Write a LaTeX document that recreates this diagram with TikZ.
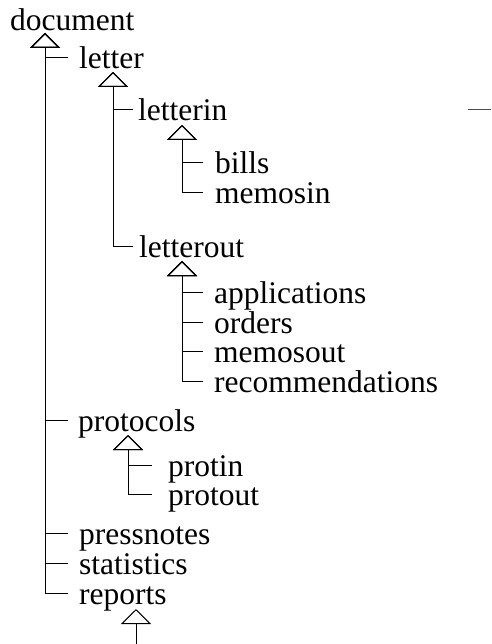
\documentclass[tikz,border=0pt]{standalone}
\usepackage{fontspec}
\setmainfont{Liberation Serif}
\usetikzlibrary{arrows.meta}
\tikzset{
  x=1bp, y=-1bp,
  lbl/.style={anchor=west, inner ysep=0pt, text height=22bp, text depth=0pt,
              font=\fontsize{31.5bp}{37bp}\selectfont},
  gen/.style={line width=1bp, -{Triangle[open,length=15bp,width=30bp]}},
  plain/.style={line width=1bp}
}
\begin{document}
\begin{tikzpicture}
\useasboundingbox (0,0) rectangle (492,644);
% nodes
\node[lbl, inner xsep=0pt]  (document) at (10,20) {document};
\node[lbl, inner xsep=11bp] (letter) at (68,58) {letter};
\node[lbl, inner xsep=5bp]  (letterin) at (133,110) {letterin};
\node[lbl, inner xsep=12bp] (bills) at (203,163) {bills};
\node[lbl, inner xsep=12bp] (memosin) at (203,192) {memosin};
\node[lbl, inner xsep=6bp]  (letterout) at (133,246) {letterout};
\node[lbl, inner xsep=11bp] (applications) at (203,292) {applications};
\node[lbl, inner xsep=11bp] (orders) at (203,322) {orders};
\node[lbl, inner xsep=11bp] (memosout) at (203,351) {memosout};
\node[lbl, inner xsep=11bp] (recommendations) at (203,381) {recommendations};
\node[lbl, inner xsep=10bp] (protocols) at (68,420) {protocols};
\node[lbl, inner xsep=16bp] (protin) at (152,465) {protin};
\node[lbl, inner xsep=16bp] (protout) at (152,494) {protout};
\node[lbl, inner xsep=11bp] (pressnotes) at (68,533) {pressnotes};
\node[lbl, inner xsep=11bp] (statistics) at (68,563) {statistics};
\node[lbl, inner xsep=11bp] (reports) at (68,593) {reports};
% triangle apex points
\coordinate (document-t) at (45,33);
\coordinate (letter-t) at (113,72);
\coordinate (letterin-t) at (182,125);
\coordinate (letterout-t) at (182,261);
\coordinate (protocols-t) at (128,435);
\coordinate (reports-t) at (136,609);
\coordinate (reports-src) at (136,644);
\coordinate (stray-a) at (468,110);
\coordinate (stray-b) at (491,110);
% connectors
\foreach \c in {letter,protocols,pressnotes,statistics,reports}
  \draw[gen] (\c.west) -| (document-t);
\foreach \c in {letterin,letterout}
  \draw[gen] (\c.west) -| (letter-t);
\foreach \c in {bills,memosin}
  \draw[gen] (\c.west) -| (letterin-t);
\foreach \c in {applications,orders,memosout,recommendations}
  \draw[gen] (\c.west) -| (letterout-t);
\foreach \c in {protin,protout}
  \draw[gen] (\c.west) -| (protocols-t);
\draw[gen] (reports-src) -- (reports-t);
\draw[plain, black!70] (stray-a) -- (stray-b);
\end{tikzpicture}
\end{document}
